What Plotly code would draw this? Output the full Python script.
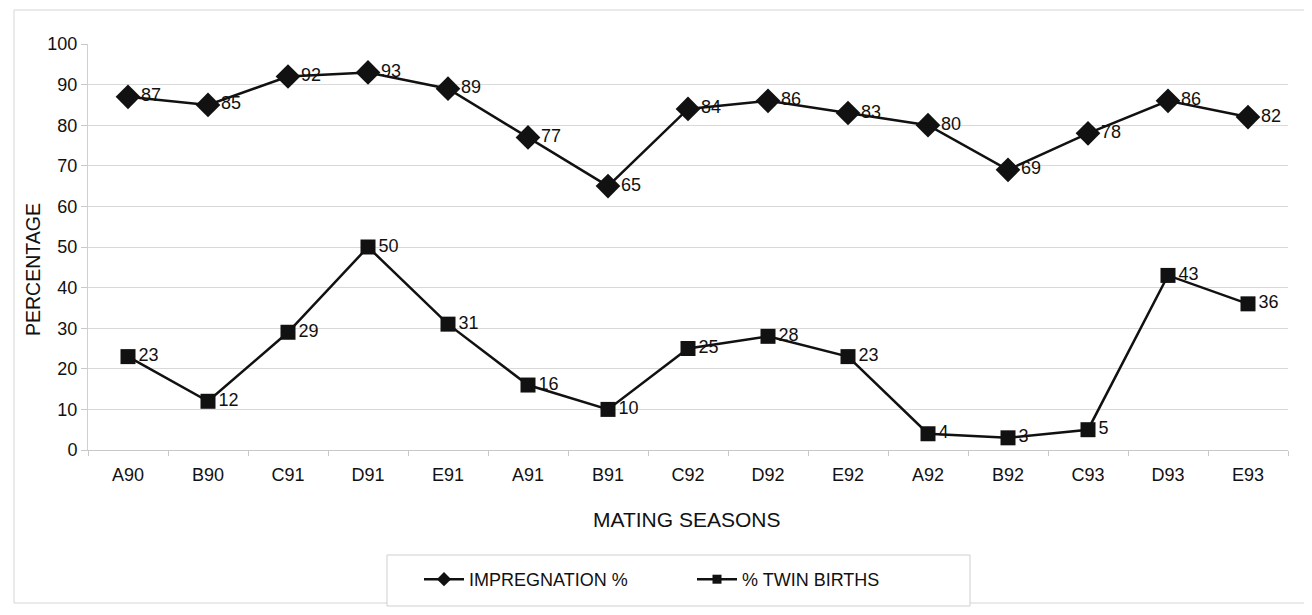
import plotly.graph_objects as go

seasons = ["A90", "B90", "C91", "D91", "E91", "A91", "B91", "C92", "D92", "E92",
           "A92", "B92", "C93", "D93", "E93"]
impregnation = [87, 85, 92, 93, 89, 77, 65, 84, 86, 83, 80, 69, 78, 86, 82]
twin_births = [23, 12, 29, 50, 31, 16, 10, 25, 28, 23, 4, 3, 5, 43, 36]
y_ticks = list(range(0, 101, 10))

FONT = "Liberation Sans, Arial, sans-serif"
INK = "#111111"

# figure geometry (the page adds an 8px body margin)
W, H = 1304, 607
L, R, T, B = 80, 24, 36, 165
PW, PH = W - L - R, H - T - B


def px(xf):
    return (xf - L) / PW


def py(yf):
    return (T + PH - yf) / PH


fig = go.Figure()
fig.add_trace(go.Scatter(
    x=seasons, y=impregnation, name="IMPREGNATION %", showlegend=False,
    mode="lines+markers+text",
    text=[str(v) for v in impregnation], textposition="middle right",
    textfont=dict(size=18, color=INK, family=FONT),
    line=dict(color=INK, width=2.5),
    marker=dict(symbol="diamond", size=19, color=INK),
))
fig.add_trace(go.Scatter(
    x=seasons, y=twin_births, name="% TWIN BIRTHS", showlegend=False,
    mode="lines+markers+text",
    text=[str(v) for v in twin_births], textposition="middle right",
    textfont=dict(size=18, color=INK, family=FONT),
    line=dict(color=INK, width=2.5),
    marker=dict(symbol="square", size=15, color=INK),
))
# legend entries with smaller symbols, as in the original
fig.add_trace(go.Scatter(
    x=[None], y=[None], name="IMPREGNATION %", mode="lines+markers",
    line=dict(color=INK, width=2.5), marker=dict(symbol="diamond", size=11, color=INK),
))
fig.add_trace(go.Scatter(
    x=[None], y=[None], name="% TWIN BIRTHS", mode="lines+markers",
    line=dict(color=INK, width=2.5), marker=dict(symbol="square", size=9, color=INK),
))

fig.update_layout(
    width=W, height=H,
    margin=dict(l=L, r=R, t=T, b=B),
    paper_bgcolor="white", plot_bgcolor="white",
    font=dict(family=FONT, size=18, color=INK),
    showlegend=True,
    legend=dict(
        orientation="h", x=px(411), xanchor="left", y=py(553), yanchor="top",
        borderwidth=0, bgcolor="rgba(0,0,0,0)",
        font=dict(size=18, family=FONT, color=INK),
        entrywidth=218, entrywidthmode="pixels", itemwidth=40,
        traceorder="normal",
    ),
    xaxis=dict(
        type="category", range=[-0.5, 14.5],
        showgrid=False, showline=True, linecolor="#c8c8c8", linewidth=1,
        ticks="outside", tickson="boundaries", ticklen=5, tickcolor="#c8c8c8",
        ticklabelstandoff=8,
        tickfont=dict(size=18, family=FONT, color=INK),
        zeroline=False,
    ),
    yaxis=dict(
        range=[0, 100], tickvals=y_ticks,
        showgrid=True, gridcolor="#d9d9d9", gridwidth=1,
        showline=True, linecolor="#d0d0d0", linewidth=1,
        ticks="outside", ticklen=6, tickcolor="#c8c8c8",
        tickfont=dict(size=18, family=FONT, color=INK),
        zeroline=False,
    ),
    annotations=[
        dict(text="MATING SEASONS", xref="paper", yref="paper",
             x=px(678), y=py(511), xanchor="center", yanchor="middle",
             showarrow=False, font=dict(size=21, family=FONT, color=INK)),
        dict(text="PERCENTAGE", xref="paper", yref="paper", textangle=-90,
             x=px(25), y=py(262), xanchor="center", yanchor="middle",
             showarrow=False, font=dict(size=19.5, family=FONT, color=INK)),
    ],
)

# outer chart frame
fig.add_shape(type="rect", xref="paper", yref="paper",
              x0=px(6), x1=px(1299), y0=py(595), y1=py(2),
              line=dict(color="#d5d5d5", width=1), layer="below")
# legend frame
fig.add_shape(type="rect", xref="paper", yref="paper",
              x0=px(379), x1=px(962), y0=py(598), y1=py(547),
              line=dict(color="#cfcfcf", width=1), fillcolor="white", layer="below")

fig.write_html("out.html")
